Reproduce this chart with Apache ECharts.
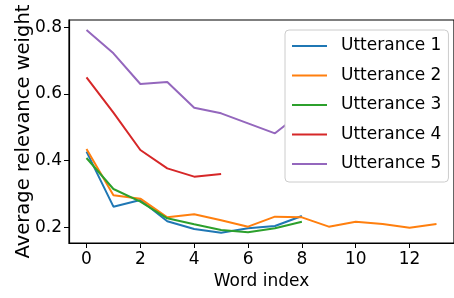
<!DOCTYPE html>
<html>
<head>
<meta charset="utf-8">
<script src="https://cdn.jsdelivr.net/npm/echarts@6/dist/echarts.min.js"></script>
<style>
  html, body { margin: 0; padding: 0; background: #fff; }
  #chart { width: 454px; height: 298px; }
</style>
</head>
<body>
<div id="chart"></div>
<script>
// average relevance weight per word position, one line per utterance
const wordIndex = [0, 1, 2, 3, 4, 5, 6, 7, 8, 9, 10, 11, 12, 13]
const utt1 = [0.427, 0.262, 0.282, 0.218, 0.195, 0.184, 0.197, 0.204, 0.234]
const utt2 = [0.435, 0.296, 0.286, 0.230, 0.239, 0.221, 0.202, 0.232, 0.230, 0.202, 0.217, 0.210, 0.199, 0.210]
const utt3 = [0.408, 0.315, 0.277, 0.227, 0.209, 0.192, 0.185, 0.197, 0.217]
const utt4 = [0.650, 0.544, 0.432, 0.377, 0.352, 0.360]
const utt5 = [0.792, 0.722, 0.630, 0.636, 0.559, 0.542, 0.512, 0.482, 0.545]

const xTicks = [0, 2, 4, 6, 8, 10, 12]
const yTicks = [0.2, 0.4, 0.6, 0.8]

const SERIES = [
  { name: 'Utterance 1', values: utt1, color: '#1f77b4' },
  { name: 'Utterance 2', values: utt2, color: '#ff7f0e' },
  { name: 'Utterance 3', values: utt3, color: '#2ca02c' },
  { name: 'Utterance 4', values: utt4, color: '#d62728' },
  { name: 'Utterance 5', values: utt5, color: '#9467bd' },
]

const FONT = '"DejaVu Sans", sans-serif'
const axisBlack = { lineStyle: { color: '#000', width: 1.2 } }

const chart = echarts.init(document.getElementById('chart'), null, { renderer: 'canvas' })
chart.setOption({
  animation: false,
  textStyle: { fontFamily: FONT, color: '#000' },
  grid: {
    left: 69, right: -3, top: 20, bottom: 55,
    show: true, borderColor: '#000', borderWidth: 1.2, backgroundColor: 'transparent',
  },
  legend: {
    orient: 'vertical', left: 285, top: 30,
    padding: [6, 7, 8, 7],
    backgroundColor: '#fff',
    borderColor: '#cccccc', borderWidth: 1, borderRadius: 4,
    icon: 'rect', itemWidth: 35, itemHeight: 2, itemGap: 9.5,
    textStyle: { fontFamily: FONT, fontSize: 17, color: '#000', lineHeight: 20, padding: [0, 0, 0, 9] },
    data: SERIES.map((s) => s.name),
  },
  xAxis: {
    type: 'value', min: -0.65, max: 13.65,
    name: 'Word index', nameLocation: 'middle', nameGap: 30,
    nameTextStyle: { fontFamily: FONT, fontSize: 17, color: '#000' },
    axisLine: { show: true, onZero: false, ...axisBlack },
    axisTick: { show: true, length: 5, customValues: xTicks, lineStyle: { color: '#000' } },
    axisLabel: { customValues: xTicks, fontSize: 17, color: '#000', margin: 8, fontFamily: FONT },
    splitLine: { show: false },
  },
  yAxis: {
    type: 'value', min: 0.153, max: 0.822,
    name: 'Average relevance weight', nameLocation: 'middle', nameGap: 35,
    nameMoveOverlap: false,
    nameTextStyle: { fontFamily: FONT, fontSize: 19.5, color: '#000' },
    axisLine: { show: true, onZero: false, ...axisBlack },
    axisTick: { show: true, length: 5, customValues: yTicks, lineStyle: { color: '#000' } },
    axisLabel: {
      customValues: yTicks, fontSize: 17, color: '#000', margin: 7, fontFamily: FONT,
      formatter: (v) => v.toFixed(1),
    },
    splitLine: { show: false },
  },
  series: SERIES.map((s) => ({
    name: s.name,
    type: 'line',
    symbol: 'none',
    color: s.color,
    lineStyle: { width: 2, color: s.color },
    data: s.values.map((v, i) => [wordIndex[i], v]),
  })),
})
</script>
</body>
</html>
